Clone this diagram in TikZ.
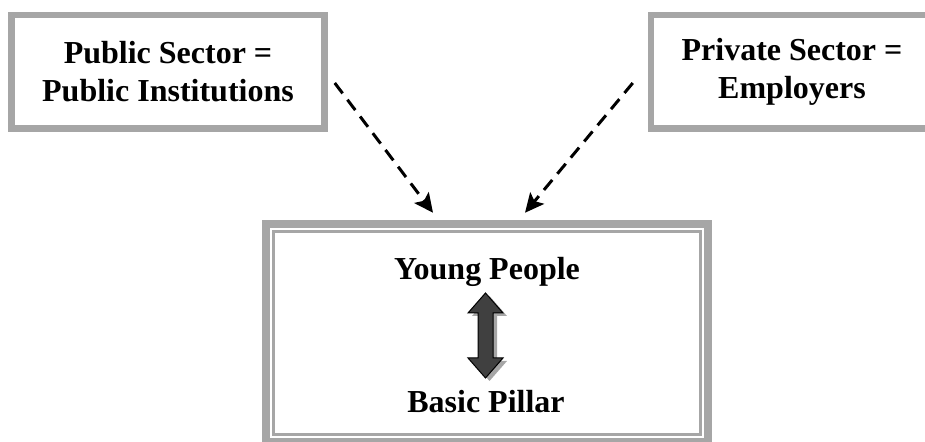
\documentclass[tikz,border=0pt]{standalone}
\usepackage{fontspec}
\setmainfont{Liberation Serif}
\usetikzlibrary{arrows.meta}
\definecolor{boxgray}{HTML}{A6A6A6}

\begin{document}
\begin{tikzpicture}[x=0.5pt,y=-0.5pt,line join=miter]
	\tikzstyle{sector}=[draw=boxgray,line width=3.25pt,fill=white,align=center,inner sep=0pt,minimum height=56.75pt,font=\fontsize{16}{19}\selectfont\bfseries];
	\tikzstyle{core}=[draw=boxgray,line width=4.25pt,minimum width=221pt,minimum height=109pt,inner sep=0pt];
	\tikzstyle{inner}=[draw=boxgray,line width=1.5pt];
	\tikzstyle{word}=[inner sep=0pt,font=\fontsize{16}{19}\selectfont\bfseries];
	\tikzstyle{link}=[-{Stealth[length=9.5pt,width=9pt,inset=2pt]},line width=1.5pt,dash pattern=on 6.5pt off 4pt];
	\useasboundingbox (0,0) rectangle (925,442);

	\node[sector,minimum width=156.5pt] (pub)  at (168,72) {Public Sector =\\Public Institutions};
	\node[sector,minimum width=141pt]   (priv) at (792,72) {Private Sector =\\Employers};
	\node[core] (core) at (487,333) {};
	\draw[inner] ([shift={(6pt,-6pt)}]core.north west) rectangle ([shift={(-6pt,6pt)}]core.south east);
	\node[word,anchor=base] (young)  at (487,280) {Young People};
	\node[word,anchor=base] (pillar) at (486,413) {Basic Pillar};

	\draw[link] ([xshift=3.5pt,yshift=-5.5pt]pub.east) -- ([xshift=-27pt,yshift=3.5pt]core.north);
	\draw[link] ([xshift=-7.5pt,yshift=-5.5pt]priv.west) -- ([xshift=19pt,yshift=3.5pt]core.north);

	% two-way arrow between the words
	\coordinate (swap) at (485.5,335.5);
	\fill[boxgray] ([shift={(2pt,-1.5pt)}]swap) ++(0,-42.5) -- ++(17.5,20) -- ++(-10,0) -- ++(0,45) -- ++(10,0) -- ++(-17.5,20) -- ++(-17.5,-20) -- ++(10,0) -- ++(0,-45) -- ++(-10,0) -- cycle;
	\draw[line width=0.5pt,top color=black!75,middle color=black,bottom color=black!75] (swap) ++(0,-42.5) -- ++(17.5,20) -- ++(-10,0) -- ++(0,45) -- ++(10,0) -- ++(-17.5,20) -- ++(-17.5,-20) -- ++(10,0) -- ++(0,-45) -- ++(-10,0) -- cycle;
\end{tikzpicture}
\end{document}
